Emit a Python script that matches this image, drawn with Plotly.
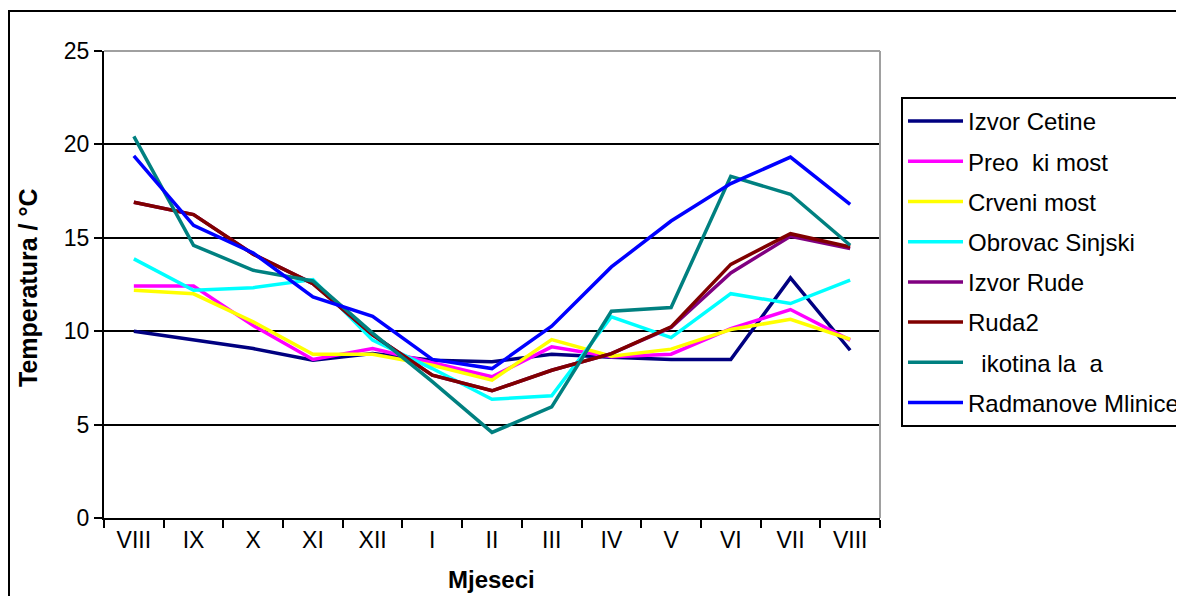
import plotly.graph_objects as go

months = ["VIII", "IX", "X", "XI", "XII", "I", "II", "III", "IV", "V", "VI", "VII", "VIII"]

izvor_cetine = [10.0, 9.55, 9.07, 8.45, 8.8, 8.45, 8.36, 8.77, 8.6, 8.49, 8.49, 12.85, 8.98]
preocki_most = [12.42, 12.42, 10.3, 8.49, 9.07, 8.3, 7.56, 9.16, 8.63, 8.77, 10.14, 11.16, 9.52]
crveni_most = [12.19, 12.0, 10.5, 8.77, 8.77, 8.18, 7.38, 9.55, 8.66, 9.04, 10.09, 10.64, 9.57]
obrovac_sinjski = [13.87, 12.19, 12.33, 12.76, 9.52, 8.0, 6.36, 6.54, 10.77, 9.66, 12.01, 11.48, 12.73]
izvor_rude = [16.9, 16.24, 14.12, 12.55, 9.8, 7.65, 6.81, 7.91, 8.8, 10.2, 13.12, 15.08, 14.42]
ruda2 = [16.9, 16.24, 14.12, 12.55, 9.8, 7.65, 6.81, 7.91, 8.8, 10.23, 13.58, 15.22, 14.51]
zikotina_lada = [20.43, 14.6, 13.26, 12.69, 9.9, 7.3, 4.58, 5.95, 11.07, 11.27, 18.29, 17.33, 14.6]
radmanove_mlinice = [19.39, 15.67, 14.19, 11.84, 10.8, 8.49, 8.0, 10.27, 13.44, 15.9, 17.9, 19.32, 16.79]

x_title = "Mjeseci"
y_title = "Temperatura / °C"

series = [
    ("Izvor Cetine", izvor_cetine, "#000080"),
    ("Preo  ki most", preocki_most, "#FF00FF"),
    ("Crveni most", crveni_most, "#FFFF00"),
    ("Obrovac Sinjski", obrovac_sinjski, "#00FFFF"),
    ("Izvor Rude", izvor_rude, "#800080"),
    ("Ruda2", ruda2, "#800000"),
    ("  ikotina la  a", zikotina_lada, "#008080"),
    ("Radmanove Mlinice", radmanove_mlinice, "#0000FF"),
]

xs = list(range(len(months)))

fig = go.Figure()
for i, (name, vals, col) in enumerate(series):
    fig.add_trace(go.Scatter(
        x=xs, y=vals, mode="lines", name=name,
        line=dict(color=col, width=3.5),
        legendgroup=f"g{i}",
    ))

font_family = "Liberation Sans, Arial, sans-serif"

L, R, T, B = 96, 312, 43, 86
PW = 1184 - L - R
PH = 596 - T - B
OFF = 8  # page body offset


def px_x(px):
    return (px - OFF - L) / PW


def px_y(py):
    return (596 - B - (py - OFF)) / PH


fig.update_layout(
    width=1184, height=596,
    margin=dict(l=L, r=R, t=T, b=B, autoexpand=False),
    paper_bgcolor="white", plot_bgcolor="white",
    font=dict(family=font_family, size=23, color="black"),
    showlegend=True,
    legend=dict(
        x=px_x(901), y=px_y(97), xanchor="left", yanchor="top",
        bordercolor="black", borderwidth=2,
        font=dict(family=font_family, size=24, color="black"),
        tracegroupgap=6,
        itemwidth=55,
        bgcolor="white",
    ),
    xaxis=dict(
        range=[-0.5, 12.5],
        tickmode="array", tickvals=xs, ticktext=months,
        ticks="", showgrid=False, zeroline=False,
        showline=True, linecolor="black", linewidth=2,
        minor=dict(tickmode="linear", tick0=-0.5, dtick=1, ticks="outside",
                   ticklen=8, tickwidth=2, tickcolor="black", showgrid=False),
        tickfont=dict(size=23),
    ),
    yaxis=dict(
        range=[0, 25], tickmode="linear", tick0=0, dtick=5,
        ticks="outside", ticklen=8, tickwidth=2, tickcolor="black",
        showgrid=True, gridcolor="black", gridwidth=2,
        zeroline=False,
        showline=True, linecolor="black", linewidth=2,
        tickfont=dict(size=23),
    ),
    annotations=[
        dict(text=f"<b>{x_title}</b>", xref="paper", yref="paper",
             x=px_x(491), y=px_y(579), xanchor="center", yanchor="middle",
             showarrow=False, font=dict(size=24)),
        dict(text=f"<b>{y_title}</b>", xref="paper", yref="paper",
             x=px_x(28), y=px_y(288), xanchor="center", yanchor="middle",
             textangle=-90, showarrow=False, font=dict(size=25)),
    ],
    shapes=[
        dict(type="line", xref="paper", yref="paper", x0=0, x1=1, y0=1, y1=1,
             line=dict(color="#A0A0A0", width=2)),
        dict(type="line", xref="paper", yref="paper", x0=1, x1=1, y0=0, y1=1,
             line=dict(color="#A0A0A0", width=2)),
        dict(type="rect", xref="paper", yref="paper",
             x0=(1 - L) / PW, x1=2.0, y0=-1.0, y1=(596 - B - 3) / PH,
             line=dict(color="black", width=2), layer="below"),
    ],
)

fig.write_html("out.html")
